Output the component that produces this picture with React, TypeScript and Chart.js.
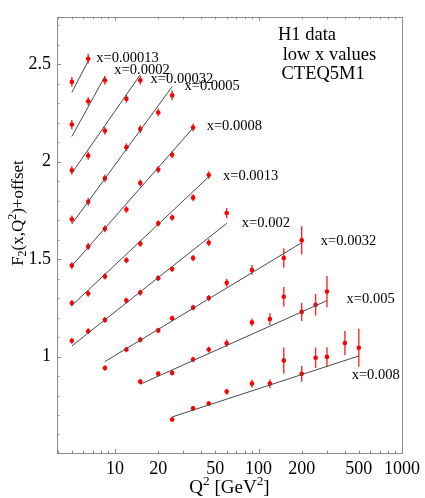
import React, { useEffect, useRef } from 'react';
import { Chart, registerables } from 'chart.js';
Chart.register(...registerables);

// ---- axis ranges / ticks ----
const X_MIN = 3.94;
const X_MAX = 1000;
const Y_MIN = 0.505;
const Y_MAX = 2.743;
const X_TICKS = [10, 20, 50, 100, 200, 500, 1000];
const Y_TICKS = [1, 1.5, 2, 2.5];

// ---- data: H1 points (Q2, F2+offset, error) and CTEQ5M1 curve end points ----
const BIN_LABELS = ['x=0.00013', 'x=0.0002', 'x=0.00032', 'x=0.0005', 'x=0.0008', 'x=0.0013', 'x=0.002', 'x=0.0032', 'x=0.005', 'x=0.008'];

const Q2_1 = [5, 6.5];
const F2_1 = [2.409, 2.528];
const ER_1 = [0.025, 0.025];
const LQ_1 = [5, 6.5];
const LF_1 = [2.355, 2.516];

const Q2_2 = [5, 6.5, 8.5];
const F2_2 = [2.19, 2.31, 2.417];
const ER_2 = [0.024, 0.022, 0.022];
const LQ_2 = [5, 8.5];
const LF_2 = [2.129, 2.437];

const Q2_3 = [5, 6.5, 8.5, 12, 15];
const F2_3 = [1.955, 2.03, 2.158, 2.322, 2.417];
const ER_3 = [0.022, 0.02, 0.02, 0.02, 0.022];
const LQ_3 = [5, 15];
const LF_3 = [1.941, 2.446];

const Q2_4 = [5, 6.5, 8.5, 12, 15, 20, 25];
const F2_4 = [1.704, 1.794, 1.914, 2.074, 2.167, 2.252, 2.34];
const ER_4 = [0.02, 0.02, 0.02, 0.02, 0.02, 0.02, 0.025];
const LQ_4 = [5, 25];
const LF_4 = [1.68, 2.385];

const Q2_5 = [5, 6.5, 8.5, 12, 15, 20, 25, 35];
const F2_5 = [1.467, 1.564, 1.655, 1.754, 1.89, 1.959, 2.035, 2.175];
const ER_5 = [0.018, 0.018, 0.018, 0.018, 0.018, 0.018, 0.018, 0.02];
const LQ_5 = [5, 35];
const LF_5 = [1.465, 2.173];

const Q2_6 = [5, 6.5, 8.5, 12, 15, 20, 25, 35, 45];
const F2_6 = [1.274, 1.323, 1.411, 1.494, 1.579, 1.683, 1.713, 1.815, 1.931];
const ER_6 = [0.016, 0.016, 0.016, 0.016, 0.016, 0.016, 0.016, 0.018, 0.02];
const LQ_6 = [5, 45];
const LF_6 = [1.262, 1.922];

const Q2_7 = [5, 6.5, 8.5, 12, 15, 20, 25, 35, 45, 60];
const F2_7 = [1.081, 1.13, 1.188, 1.287, 1.328, 1.402, 1.449, 1.505, 1.584, 1.736];
const ER_7 = [0.015, 0.015, 0.015, 0.015, 0.015, 0.015, 0.015, 0.016, 0.018, 0.026];
const LQ_7 = [5, 60];
const LF_7 = [1.054, 1.683];

const Q2_8 = [8.5, 12, 15, 20, 25, 35, 45, 60, 90, 150, 200];
const F2_8 = [0.941, 1.036, 1.086, 1.134, 1.196, 1.251, 1.3, 1.378, 1.444, 1.505, 1.596];
const ER_8 = [0.014, 0.014, 0.014, 0.014, 0.014, 0.014, 0.016, 0.02, 0.025, 0.05, 0.072];
const LQ_8 = [8.5, 200];
const LF_8 = [0.974, 1.584];

const Q2_9 = [15, 20, 25, 35, 45, 60, 90, 120, 150, 200, 250, 300];
const F2_9 = [0.871, 0.912, 0.916, 0.985, 1.036, 1.068, 1.175, 1.192, 1.307, 1.229, 1.266, 1.333];
const ER_9 = [0.013, 0.013, 0.013, 0.014, 0.015, 0.02, 0.02, 0.03, 0.05, 0.047, 0.055, 0.08];
const LQ_9 = [15, 300];
const LF_9 = [0.858, 1.287];

const Q2_10 = [25, 35, 45, 60, 90, 120, 150, 200, 250, 300, 400, 500];
const F2_10 = [0.677, 0.734, 0.759, 0.82, 0.861, 0.861, 0.979, 0.911, 0.994, 0.998, 1.069, 1.045];
const ER_10 = [0.012, 0.012, 0.012, 0.015, 0.02, 0.023, 0.067, 0.04, 0.052, 0.05, 0.062, 0.097];
const LQ_10 = [25, 500];
const LF_10 = [0.69, 1.003];

// label anchors (data coords: left edge x, vertical centre y)
const LABEL_Q2 = [7.4, 9.89, 17.7, 30.5, 43.5, 56.6, 76.5, 272, 411, 446];
const LABEL_F2 = [2.532, 2.467, 2.422, 2.385, 2.18, 1.927, 1.683, 1.59, 1.296, 0.906];

const HEADER = ['H1 data', ' low x values', 'CTEQ5M1'];

const POINTS_Q2 = [Q2_1, Q2_2, Q2_3, Q2_4, Q2_5, Q2_6, Q2_7, Q2_8, Q2_9, Q2_10];
const POINTS_F2 = [F2_1, F2_2, F2_3, F2_4, F2_5, F2_6, F2_7, F2_8, F2_9, F2_10];
const POINTS_ER = [ER_1, ER_2, ER_3, ER_4, ER_5, ER_6, ER_7, ER_8, ER_9, ER_10];
const LINES_Q2 = [LQ_1, LQ_2, LQ_3, LQ_4, LQ_5, LQ_6, LQ_7, LQ_8, LQ_9, LQ_10];
const LINES_F2 = [LF_1, LF_2, LF_3, LF_4, LF_5, LF_6, LF_7, LF_8, LF_9, LF_10];

const SERIF = '"Liberation Serif", "DejaVu Serif", serif';

type Part = { t: string; sup?: boolean; sub?: boolean };

function richWidth(ctx: CanvasRenderingContext2D, parts: Part[], size: number) {
  let w = 0;
  for (const p of parts) {
    const s = p.sup || p.sub ? size * 0.7 : size;
    ctx.font = `${s}px ${SERIF}`;
    w += ctx.measureText(p.t).width;
  }
  return w;
}

function drawRich(ctx: CanvasRenderingContext2D, parts: Part[], x: number, baseline: number, size: number) {
  let cx = x;
  ctx.textBaseline = 'alphabetic';
  ctx.textAlign = 'left';
  for (const p of parts) {
    const s = p.sup || p.sub ? size * 0.7 : size;
    ctx.font = `${s}px ${SERIF}`;
    const dy = p.sup ? -size * 0.4 : p.sub ? size * 0.22 : 0;
    ctx.fillText(p.t, cx, baseline + dy);
    cx += ctx.measureText(p.t).width;
  }
}

const decorPlugin = {
  id: 'decor',
  beforeDatasetsDraw(chart: any) {
    const { ctx } = chart;
    const xs = chart.scales.x;
    const ys = chart.scales.y;
    ctx.save();
    ctx.strokeStyle = '#ff2a2a';
    ctx.lineWidth = 1.4;
    for (let s = 0; s < POINTS_Q2.length; s++) {
      for (let i = 0; i < POINTS_Q2[s].length; i++) {
        const px = xs.getPixelForValue(POINTS_Q2[s][i]);
        const y1 = ys.getPixelForValue(POINTS_F2[s][i] - POINTS_ER[s][i]);
        const y2 = ys.getPixelForValue(POINTS_F2[s][i] + POINTS_ER[s][i]);
        ctx.beginPath();
        ctx.moveTo(px, y1);
        ctx.lineTo(px, y2);
        ctx.stroke();
      }
    }
    ctx.restore();
  },
  afterDraw(chart: any) {
    const { ctx, chartArea: a } = chart;
    const xs = chart.scales.x;
    const ys = chart.scales.y;
    ctx.save();
    // frame
    ctx.strokeStyle = '#8c8c8c';
    ctx.lineWidth = 1;
    ctx.strokeRect(Math.round(a.left) + 0.5, Math.round(a.top) + 0.5, Math.round(a.right - a.left), Math.round(a.bottom - a.top));
    // x ticks (bottom & top, inward)
    ctx.beginPath();
    for (let dec = 1; dec <= 1000; dec *= 10) {
      for (let m = 1; m <= 9; m++) {
        const v = m * dec;
        if (v < X_MIN || v > X_MAX) continue;
        const px = Math.round(xs.getPixelForValue(v)) + 0.5;
        const len = m === 1 ? 4 : 2.5;
        ctx.moveTo(px, a.bottom);
        ctx.lineTo(px, a.bottom - len);
        ctx.moveTo(px, a.top);
        ctx.lineTo(px, a.top + len);
      }
    }
    // y ticks (left, inward)
    for (let k = 6; k <= 27; k++) {
      const v = k / 10;
      if (v < Y_MIN || v > Y_MAX) continue;
      const py = Math.round(ys.getPixelForValue(v)) + 0.5;
      const len = k % 5 === 0 ? 4 : 2.5;
      ctx.moveTo(a.left, py);
      ctx.lineTo(a.left + len, py);
    }
    ctx.stroke();

    // bin labels
    ctx.fillStyle = '#000';
    ctx.font = `14.5px ${SERIF}`;
    ctx.textAlign = 'left';
    ctx.textBaseline = 'middle';
    for (let i = 0; i < BIN_LABELS.length; i++) {
      ctx.fillText(BIN_LABELS[i], xs.getPixelForValue(LABEL_Q2[i]), ys.getPixelForValue(LABEL_F2[i]));
    }
    // header
    ctx.font = `18.5px ${SERIF}`;
    ctx.fillText(HEADER[0], a.left + 221, a.top + 18.5);
    ctx.fillText(HEADER[1], a.left + 221, a.top + 38);
    ctx.fillText(HEADER[2], a.left + 224.5, a.top + 57.5);

    // axis titles
    const xt: Part[] = [{ t: 'Q' }, { t: '2', sup: true }, { t: ' [GeV' }, { t: '2', sup: true }, { t: ']' }];
    const xsz = 19;
    const xw = richWidth(ctx, xt, xsz);
    drawRich(ctx, xt, (a.left + a.right) / 2 - xw / 2, a.bottom + 40, xsz);

    const yt: Part[] = [{ t: 'F' }, { t: '2', sub: true }, { t: '(x,Q' }, { t: '2', sup: true }, { t: ')+offset' }];
    const ysz = 17;
    const yw = richWidth(ctx, yt, ysz);
    ctx.translate(22.5, 213);
    ctx.rotate(-Math.PI / 2);
    drawRich(ctx, yt, -yw / 2, 0, ysz);
    ctx.restore();
  },
};

export default function App() {
  const ref = useRef<HTMLCanvasElement>(null);
  useEffect(() => {
    document.body.style.margin = '0';
    const canvas = ref.current!;
    const datasets: any[] = [];
    for (let s = 0; s < POINTS_Q2.length; s++) {
      datasets.push({
        type: 'line',
        data: LINES_Q2[s].map((q, i) => ({ x: q, y: LINES_F2[s][i] })),
        borderColor: '#4a4a4a',
        borderWidth: 1,
        pointRadius: 0,
        fill: false,
        tension: 0,
      });
      datasets.push({
        type: 'scatter',
        data: POINTS_Q2[s].map((q, i) => ({ x: q, y: POINTS_F2[s][i] })),
        backgroundColor: '#ff0000',
        borderColor: '#ff0000',
        borderWidth: 0,
        pointRadius: 2.3,
        pointStyle: 'circle',
      });
    }
    const chart = new Chart(canvas, {
      type: 'scatter',
      data: { datasets },
      options: {
        animation: false,
        responsive: false,
        devicePixelRatio: 1,
        layout: { padding: { top: 1, right: 19, left: 0, bottom: 0 } },
        plugins: { legend: { display: false }, tooltip: { enabled: false } },
        scales: {
          x: {
            type: 'logarithmic',
            min: X_MIN,
            max: X_MAX,
            afterBuildTicks: (s: any) => {
              s.ticks = X_TICKS.map((v) => ({ value: v }));
            },
            afterFit: (s: any) => {
              s.height = 45;
            },
            ticks: {
              callback: (v: any) => String(v),
              font: { family: SERIF, size: 18 },
              color: '#000',
              maxRotation: 0,
              autoSkip: false,
              padding: 5,
            },
            grid: { display: false, drawTicks: false },
            border: { display: false },
          },
          y: {
            type: 'linear',
            min: Y_MIN,
            max: Y_MAX,
            afterBuildTicks: (s: any) => {
              s.ticks = Y_TICKS.map((v) => ({ value: v }));
            },
            afterFit: (s: any) => {
              s.width = 57;
            },
            ticks: {
              callback: (v: any) => String(v),
              font: { family: SERIF, size: 18 },
              color: '#000',
              padding: 6,
            },
            grid: { display: false, drawTicks: false },
            border: { display: false },
          },
        },
      },
      plugins: [decorPlugin],
    });
    return () => chart.destroy();
  }, []);
  return <canvas ref={ref} width={425} height={498} style={{ display: 'block' }} />;
}
